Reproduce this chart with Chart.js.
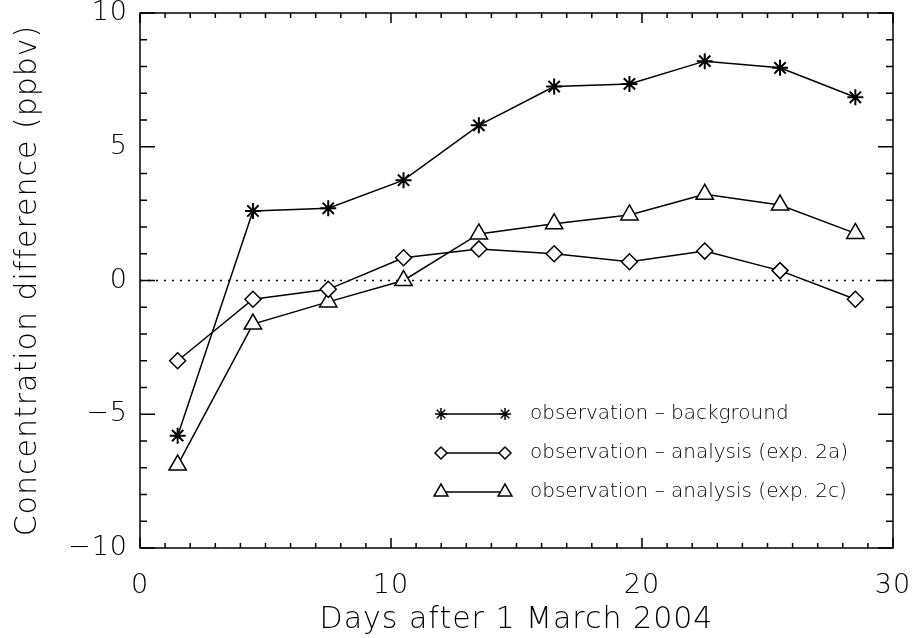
<!DOCTYPE html>
<html>
<head>
<meta charset="utf-8">
<script src="https://cdn.jsdelivr.net/npm/chart.js@4"></script>
<style>
html,body{margin:0;padding:0;background:#fff;}
#wrap{width:914px;height:638px;}
</style>
</head>
<body>
<div id="wrap"><canvas id="c" width="914" height="638"></canvas></div>
<script>
// ---- data ----
const days = [1.5, 4.5, 7.5, 10.5, 13.5, 16.5, 19.5, 22.5, 25.5, 28.5];
const obsMinusBackground = [-5.8, 2.6, 2.7, 3.75, 5.8, 7.25, 7.35, 8.2, 7.95, 6.85];
const obsMinusAnalysis2a = [-3.0, -0.7, -0.33, 0.85, 1.18, 1.0, 0.7, 1.1, 0.37, -0.7];
const obsMinusAnalysis2c = [-6.9, -1.63, -0.8, 0.0, 1.74, 2.12, 2.45, 3.22, 2.82, 1.76];
const seriesLabels = [
  'observation \u2013 background',
  'observation \u2013 analysis (exp. 2a)',
  'observation \u2013 analysis (exp. 2c)'
];
const xTickValues = [0, 10, 20, 30];
const yTickValues = [-10, -5, 0, 5, 10];
const xTitle = 'Days after 1 March 2004';
const yTitle = 'Concentration difference (ppbv)';

const FONT = "'DejaVu Sans', sans-serif";
const pts = (ys) => days.map((d, i) => ({x: d, y: ys[i]}));

const spacing = {
  id: 'spacing',
  beforeDraw(chart) { chart.ctx.letterSpacing = '1px'; }
};

const frameTicks = {
  id: 'frameTicks',
  afterDraw(chart) {
    const {ctx, chartArea: a, scales: {x, y}} = chart;
    ctx.save();
    ctx.strokeStyle = '#000';
    ctx.lineWidth = 1.5;
    // dotted zero line
    ctx.setLineDash([2, 6]);
    ctx.beginPath();
    const y0 = y.getPixelForValue(0);
    ctx.moveTo(a.left, y0); ctx.lineTo(a.right, y0);
    ctx.stroke();
    ctx.setLineDash([]);
    // frame
    ctx.strokeRect(a.left, a.top, a.right - a.left, a.bottom - a.top);
    // inward ticks
    ctx.beginPath();
    for (let v = x.min; v <= x.max; v += 1) {
      const px = x.getPixelForValue(v);
      const len = (v % 10 === 0) ? 10 : 5;
      ctx.moveTo(px, a.bottom); ctx.lineTo(px, a.bottom - len);
      ctx.moveTo(px, a.top); ctx.lineTo(px, a.top + len);
    }
    for (let v = y.min; v <= y.max; v += 1) {
      const py = y.getPixelForValue(v);
      const len = (v % 5 === 0) ? 15 : 7;
      ctx.moveTo(a.left, py); ctx.lineTo(a.left + len, py);
      ctx.moveTo(a.right, py); ctx.lineTo(a.right - len, py);
    }
    ctx.stroke();
    // legend
    const styles = ['star', 'rectRot', 'triangle'];
    const radii = [6, 6, 8];
    const x1 = 441, x2 = 505, tx = 530;
    const rows = [414, 453, 492];
    ctx.font = "300 20px " + FONT;
    ctx.letterSpacing = '0px';
    ctx.textBaseline = 'middle';
    ctx.textAlign = 'left';
    rows.forEach((ry, i) => {
      ctx.beginPath();
      ctx.moveTo(x1, ry); ctx.lineTo(x2, ry);
      ctx.stroke();
      [x1, x2].forEach(px => {
        ctx.fillStyle = '#fff';
        Chart.helpers.drawPoint(ctx, {pointStyle: styles[i], radius: radii[i], borderWidth: 1.5}, px, ry);
      });
      ctx.fillStyle = '#000';
      ctx.fillText(seriesLabels[i], tx, ry);
    });
    ctx.restore();
  }
};

const common = {
  borderColor: '#000', borderWidth: 1.5,
  pointBorderColor: '#000', pointBackgroundColor: '#fff',
  pointBorderWidth: 1.5, showLine: true, fill: false, tension: 0
};

new Chart(document.getElementById('c'), {
  type: 'scatter',
  data: {
    datasets: [
      Object.assign({}, common, {label: seriesLabels[0], data: pts(obsMinusBackground), pointStyle: 'star', pointRadius: 8, pointBorderWidth: 2}),
      Object.assign({}, common, {label: seriesLabels[1], data: pts(obsMinusAnalysis2a), pointStyle: 'rectRot', pointRadius: 8}),
      Object.assign({}, common, {label: seriesLabels[2], data: pts(obsMinusAnalysis2c), pointStyle: 'triangle', pointRadius: 10})
    ]
  },
  options: {
    responsive: false,
    animation: false,
    devicePixelRatio: 1,
    layout: {padding: {top: 13, right: 21, left: 0, bottom: 0}},
    plugins: {legend: {display: false}, tooltip: {enabled: false}},
    scales: {
      x: {
        type: 'linear', min: 0, max: 30,
        afterBuildTicks: s => { s.ticks = xTickValues.map(v => ({value: v})); },
        afterFit: s => { s.height = 90; s.paddingLeft = 0; s.paddingRight = 0; },
        grid: {display: false, drawTicks: false},
        border: {display: false},
        ticks: {color: '#000', font: {family: FONT, size: 27, weight: 300}, padding: 22, maxRotation: 0},
        title: {display: true, text: xTitle, color: '#000', font: {family: FONT, size: 30, weight: 300}, padding: {top: 0, bottom: 0}}
      },
      y: {
        type: 'linear', min: -10, max: 10,
        afterBuildTicks: s => { s.ticks = yTickValues.map(v => ({value: v})); },
        afterFit: s => { s.width = 140; s.paddingTop = 0; s.paddingBottom = 0; },
        grid: {display: false, drawTicks: false},
        border: {display: false},
        ticks: {color: '#000', font: {family: FONT, size: 27, weight: 300}, padding: 12,
                callback: v => (v < 0 ? '\u2212' + Math.abs(v) : String(v))},
        title: {display: true, text: yTitle, color: '#000', font: {family: FONT, size: 30, weight: 300}, padding: {top: 10, bottom: 0}}
      }
    }
  },
  plugins: [spacing, frameTicks]
});
</script>
</body>
</html>
